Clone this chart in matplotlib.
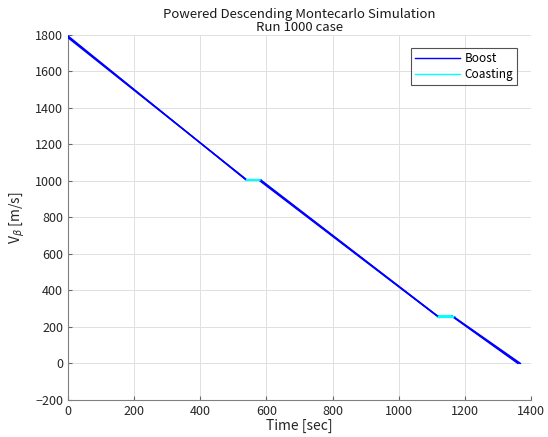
import matplotlib
matplotlib.use("Agg")
import matplotlib.pyplot as plt

plt.rcParams['font.family'] = ['Noto Sans CJK JP', 'DejaVu Sans']

# Representative Monte Carlo runs (key points)
# times: start, coast1 start, coast1 end, coast2 start, coast2 end, touchdown
run_times = [
    [0, 538, 576, 1117, 1161, 1360],
    [0, 540, 580, 1120, 1165, 1364],
    [0, 542, 584, 1123, 1169, 1368],
]
# velocities: initial, coast1 level, coast2 level, final
run_vels = [
    [1795, 1006, 258, 0],
    [1790, 1005, 255, 0],
    [1785, 1004, 252, 0],
]

title_text = "Powered Descending Montecarlo Simulation\nRun 1000 case"
xlabel_text = "Time [sec]"
ylabel_text = r"V$_\beta$ [m/s]"
legend_labels = ["Boost", "Coasting"]
xticks = [0, 200, 400, 600, 800, 1000, 1200, 1400]
yticks = [-200, 0, 200, 400, 600, 800, 1000, 1200, 1400, 1600, 1800]

fig = plt.figure(figsize=(5.48, 4.37), dpi=100)
ax = fig.add_axes([0.124, 0.085, 0.845, 0.835])

boost_c = (0, 0, 1)
coast_c = (0, 1, 1)
for i, (t, v) in enumerate(zip(run_times, run_vels)):
    lb = legend_labels[0] if i == 0 else None
    lc = legend_labels[1] if i == 0 else None
    ax.plot([t[0], t[1]], [v[0], v[1]], color=boost_c, lw=1.0, label=lb, zorder=3)
    ax.plot([t[1], t[2]], [v[1], v[1]], color=coast_c, lw=1.5, label=lc, zorder=3)
    ax.plot([t[2], t[3]], [v[1], v[2]], color=boost_c, lw=1.0, zorder=3)
    ax.plot([t[3], t[4]], [v[2], v[2]], color=coast_c, lw=1.5, zorder=3)
    ax.plot([t[4], t[5]], [v[2], v[3]], color=boost_c, lw=1.0, zorder=3)

ax.set_xlim(0, 1400)
ax.set_ylim(-200, 1800)
ax.set_xticks(xticks)
ax.set_yticks(yticks)
ax.grid(True, color=(0.88, 0.88, 0.88), lw=0.7)
ax.set_axisbelow(True)
for s in ['top', 'right']:
    ax.spines[s].set_visible(False)
for s in ['left', 'bottom']:
    ax.spines[s].set_color((0.5, 0.5, 0.5))
    ax.spines[s].set_linewidth(0.8)
ax.tick_params(direction='in', length=3, labelsize=9)
ax.tick_params(axis='both', colors=(0.4, 0.4, 0.4), labelcolor='#262626')

ax.set_title(title_text, fontsize=9.5, linespacing=1.0, pad=3, color='#1a1a1a')
ax.set_xlabel(xlabel_text, fontsize=10, labelpad=1, color='#262626')
ax.set_ylabel(ylabel_text, fontsize=10, labelpad=6, color='#262626')

leg = ax.legend(loc='upper right', bbox_to_anchor=(0.97, 0.965), fontsize=8.5,
                frameon=True, fancybox=False, edgecolor='#262626', handlelength=3.8,
                borderpad=0.35, labelspacing=0.25, handletextpad=0.4, borderaxespad=0)
leg.get_frame().set_linewidth(0.8)
for h in leg.get_lines():
    h.set_linewidth(1.0)

fig.savefig("out.png", dpi=100)
